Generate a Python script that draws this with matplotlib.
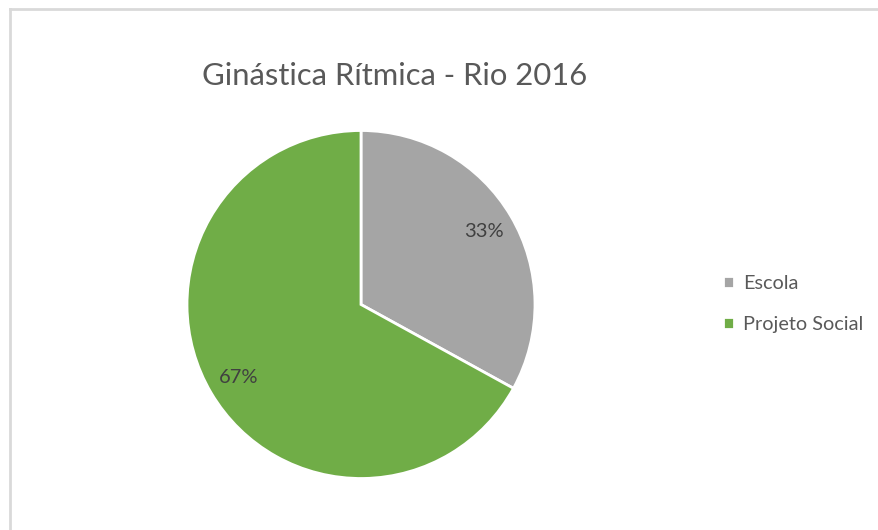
import matplotlib.pyplot as plt
from matplotlib.lines import Line2D

categories = ["Escola", "Projeto Social"]
shares = [33, 67]
colors = ["#A5A5A5", "#70AD47"]
title = "Ginástica Rítmica - Rio 2016"

plt.rcParams["font.family"] = ["Lato", "DejaVu Sans"]

W, H = 879, 530
fig = plt.figure(figsize=(W / 100, H / 100), dpi=100)
fig.patch.set_facecolor("white")

# chart frame (only top and left edges fall inside the image)
fig.add_artist(Line2D([10 / W, 1], [1 - 9 / H, 1 - 9 / H], color="#D9D9D9", lw=2))
fig.add_artist(Line2D([10 / W, 10 / W], [0, 1 - 9 / H], color="#D9D9D9", lw=2))

cx, cy, r = 361, 304.5, 174
ax = fig.add_axes([(cx - r) / W, (H - cy - r) / H, 2 * r / W, 2 * r / H])
wedges, texts, autotexts = ax.pie(
    shares, colors=colors, startangle=90, counterclock=False,
    autopct="%.0f%%", pctdistance=0.82,
    wedgeprops=dict(edgecolor="white", linewidth=2),
    textprops=dict(color="#404040", fontsize=14.5),
)
ax.set_xlim(-1, 1)
ax.set_ylim(-1, 1)
ax.set_aspect("equal")
ax.axis("off")

fig.text(395 / W, 1 - 76 / H, title, ha="center", va="center",
         fontsize=22.3, color="#595959")

leg = fig.legend(wedges, categories, loc="center left",
                 bbox_to_anchor=(705 / W, 1 - 304 / H), frameon=False,
                 fontsize=14.3, labelcolor="#595959", handlelength=0.55,
                 handleheight=0.55, handletextpad=0.45, labelspacing=1.25)

fig.savefig("out.png", dpi=100)
